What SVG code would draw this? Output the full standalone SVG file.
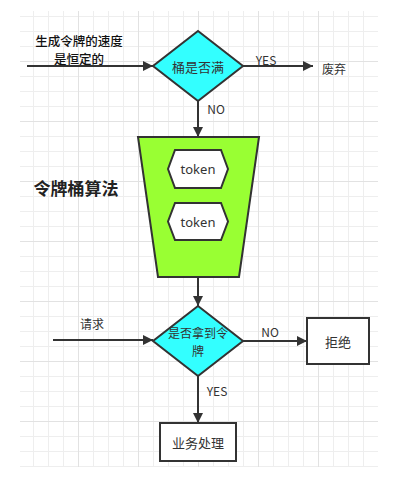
<svg xmlns="http://www.w3.org/2000/svg" width="403" height="483" viewBox="0 0 403 483">
<defs>
<pattern id="gMinor" patternUnits="userSpaceOnUse" x="18" y="1" width="15" height="15">
<rect width="15" height="1" fill="#eeeeee"/><rect width="1" height="15" fill="#eeeeee"/>
</pattern>
<pattern id="gMajor" patternUnits="userSpaceOnUse" x="18" y="1" width="60" height="60">
<rect width="60" height="1" fill="#e2e2e2"/><rect width="1" height="60" fill="#e2e2e2"/>
</pattern>
<marker id="arr" viewBox="0 0 10 10" refX="10" refY="5" markerWidth="5" markerHeight="5" orient="auto" markerUnits="strokeWidth">
<path d="M0,0 L10,5 L0,10 z" fill="#333333"/>
</marker>
<style>
.shape{stroke:#333333;stroke-width:2}
.dia{fill:#33ffff}
.box{fill:#ffffff}
.hex{fill:#ffffff}
.edge{fill:none;stroke:#333333;stroke-width:2;marker-end:url(#arr)}
text{font-family:"Noto Sans CJK SC","Noto Sans",sans-serif;fill:#333333;font-size:13px}
.tok{font-family:"Noto Sans","Noto Sans CJK SC",sans-serif;font-weight:normal}
.c{text-anchor:middle;dominant-baseline:central}
.lbl{font-size:12px}
.title{font-size:17px;font-weight:bold;fill:#222222}
.note{font-weight:500;fill:#111111;font-size:12.5px}
.two{font-size:12px}
</style>
</defs>
<rect x="0" y="0" width="403" height="483" fill="#ffffff"/>
<rect x="20" y="11" width="358" height="456" fill="url(#gMinor)"/>
<rect x="20" y="11" width="358" height="456" fill="url(#gMajor)"/>

<g id="connectors">
<path class="edge" d="M27,66 H153"/>
<path class="edge" d="M243,66 H313"/>
<path class="edge" d="M198,101 V137"/>
<path class="edge" d="M198,277 V306"/>
<path class="edge" d="M53,340 H153"/>
<path class="edge" d="M243,341 H307"/>
<path class="edge" d="M198,376 V423"/>
<text class="c lbl" x="266" y="59">YES</text>
<text class="c lbl" x="216" y="108">NO</text>
<text class="c lbl" x="270" y="331">NO</text>
<text class="c lbl" x="217" y="390">YES</text>
</g>

<g id="note-rate">
<text class="c note" x="79" y="39.5"><tspan x="79" y="39.5">生成令牌的速度</tspan><tspan x="79" y="57.8">是恒定的</tspan></text>
</g>

<g id="title">
<text class="c title" x="76" y="187">令牌桶算法</text>
</g>

<g id="decision-full">
<polygon class="shape dia" points="198,31 243,66 198,101 153,66"/>
<text class="c" x="198" y="66">桶是否满</text>
</g>

<g id="discard">
<text class="c lbl" x="334" y="68">废弃</text>
</g>

<g id="bucket">
<polygon class="shape" fill="#99ff33" points="138,137 259,137 239,277 158,277"/>
</g>

<g id="token1">
<polygon class="shape hex" points="175,150 221,150 228,169 221,188 175,188 168,169"/>
<text class="c tok" x="198" y="169">token</text>
</g>

<g id="token2">
<polygon class="shape hex" points="175,203 221,203 228,221.5 221,240 175,240 168,221.5"/>
<text class="c tok" x="198" y="221.5">token</text>
</g>

<g id="request">
<text class="c lbl" x="92" y="323">请求</text>
</g>

<g id="decision-token">
<polygon class="shape dia" points="198,306 243,341 198,376 153,341"/>
<text class="c two" x="198" y="332"><tspan x="198" y="332">是否拿到令</tspan><tspan x="198" y="349.6">牌</tspan></text>
</g>

<g id="reject">
<rect class="shape box" x="307" y="318" width="62" height="46"/>
<text class="c" x="338" y="341">拒绝</text>
</g>

<g id="process">
<rect class="shape box" x="160" y="423" width="76" height="38"/>
<text class="c" x="198" y="442">业务处理</text>
</g>
</svg>
